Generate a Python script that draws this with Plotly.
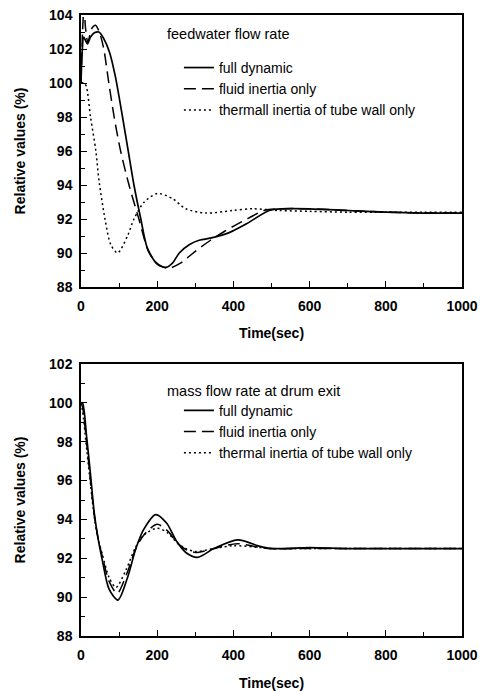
import plotly.graph_objects as go

# ---- top panel: feedwater flow rate ----
t_full_a = [0, 3, 7, 12, 17, 25, 35, 47, 60, 75, 90, 109, 124, 139, 157, 174, 200, 223, 240, 258, 285, 310, 345, 389, 433, 494, 530, 600, 700, 800, 900, 1000]
v_full_a = [100, 101.8, 102.7, 102.5, 102.3, 102.7, 102.95, 103.0, 102.6, 101.8, 100.4, 98, 96, 94, 92, 90.3, 89.35, 89.15, 89.4, 90.0, 90.5, 90.75, 90.9, 91.2, 91.7, 92.5, 92.6, 92.6, 92.5, 92.4, 92.35, 92.35]

t_fluid_a = [0, 4, 8, 12, 18, 28, 38, 48, 59, 73, 87, 104, 126, 152, 179, 205, 230, 261, 300, 340, 375, 402, 440, 480, 520, 600, 700, 800, 900, 1000]
v_fluid_a = [100, 103, 104.5, 103.2, 102.4, 103.2, 103.4, 103.0, 102.1, 100, 98, 96, 94, 92, 90, 89.3, 89.1, 89.4, 90.1, 90.75, 91.25, 91.6, 92.05, 92.5, 92.6, 92.6, 92.5, 92.4, 92.35, 92.35]

t_therm_a = [0, 8, 14, 25, 39, 47, 63, 78, 96, 122, 139, 166, 201, 240, 275, 328, 398, 450, 520, 600, 700, 800, 900, 1000]
v_therm_a = [100, 100, 99.8, 98, 96, 94.3, 92, 90.5, 90.0, 91, 92, 93, 93.5, 93.2, 92.6, 92.35, 92.5, 92.6, 92.5, 92.45, 92.4, 92.4, 92.4, 92.4]

# ---- bottom panel: mass flow rate at drum exit ----
t_full_b = [0, 4, 15, 25, 35, 45, 56, 74, 97, 122, 144, 165, 196, 225, 250, 275, 306, 349, 411, 472, 500, 600, 700, 800, 900, 1000]
v_full_b = [100, 100, 98.2, 96.3, 94.3, 93.0, 91.9, 90.4, 89.85, 91, 92.5, 93.5, 94.25, 93.8, 92.9, 92.3, 92.05, 92.5, 92.95, 92.6, 92.5, 92.55, 92.5, 92.5, 92.5, 92.5]

t_fluid_b = [0, 4, 15, 25, 35, 45, 56, 74, 95, 120, 144, 165, 200, 228, 252, 275, 305, 349, 410, 472, 500, 600, 700, 800, 900, 1000]
v_fluid_b = [100, 99.8, 97.9, 96.0, 94.2, 93.0, 92.1, 90.8, 90.2, 91.2, 92.5, 93.2, 93.75, 93.4, 92.8, 92.45, 92.3, 92.5, 92.75, 92.55, 92.5, 92.5, 92.5, 92.5, 92.5, 92.5]

t_therm_b = [0, 4, 15, 25, 35, 45, 56, 74, 92, 118, 144, 165, 200, 228, 252, 275, 300, 349, 400, 472, 500, 600, 700, 800, 900, 1000]
v_therm_b = [100, 99.6, 97.6, 95.8, 94.1, 93.0, 92.2, 91.0, 90.5, 91.4, 92.6, 93.2, 93.55, 93.3, 92.8, 92.5, 92.35, 92.5, 92.65, 92.55, 92.5, 92.5, 92.5, 92.5, 92.5, 92.5]

x_ticks = [0, 200, 400, 600, 800, 1000]
y_ticks_a = [88, 90, 92, 94, 96, 98, 100, 102, 104]
y_ticks_b = [88, 90, 92, 94, 96, 98, 100, 102]

names_a = ["full dynamic", "fluid inertia only", "thermall inertia of tube wall only"]
names_b = ["full dynamic", "fluid inertia only", "thermal inertia of tube wall only"]
dashes = ["solid", "12px,6px", "2px,3px"]
widths = [1.7, 1.5, 1.5]

fig = go.Figure()
for t, v, n, d, w in zip([t_full_a, t_fluid_a, t_therm_a], [v_full_a, v_fluid_a, v_therm_a], names_a, dashes, widths):
    fig.add_trace(go.Scatter(x=t, y=v, name=n, mode="lines", line=dict(color="black", dash=d, width=w, shape="spline", smoothing=0.8),
                             xaxis="x", yaxis="y", legend="legend"))
for t, v, n, d, w in zip([t_full_b, t_fluid_b, t_therm_b], [v_full_b, v_fluid_b, v_therm_b], names_b, dashes, widths):
    fig.add_trace(go.Scatter(x=t, y=v, name=n, mode="lines", line=dict(color="black", dash=d, width=w, shape="spline", smoothing=0.8),
                             xaxis="x2", yaxis="y2", legend="legend2"))

tickfont = dict(family="Liberation Sans", size=14, color="black", weight="bold")
titlefont = dict(family="Liberation Sans", size=14, color="black", weight="bold")
common_x = dict(range=[0, 1000], tickvals=x_ticks, ticks="inside", ticklen=6, tickwidth=1.3, tickcolor="black",
                showline=True, linecolor="black", linewidth=1.5, mirror=True, showgrid=False, zeroline=False,
                tickfont=tickfont, ticklabelstandoff=5, automargin=False,
                minor=dict(dtick=100, ticks="inside", ticklen=4, tickcolor="black", tickwidth=1))
common_y = dict(ticks="inside", ticklen=6, tickwidth=1.3, tickcolor="black",
                showline=True, linecolor="black", linewidth=1.5, mirror=True, showgrid=False, zeroline=False,
                tickfont=tickfont, ticklabelstandoff=4, automargin=False,
                minor=dict(dtick=1, ticks="inside", ticklen=4, tickcolor="black", tickwidth=1),
                title=dict(text="Relative values (%)", font=titlefont, standoff=20))

legfont = dict(family="Liberation Sans", size=14, color="black")
titfont = dict(family="Liberation Sans", size=14.5, color="black")
fig.update_layout(
    width=486, height=691,
    margin=dict(l=81, r=24, t=15, b=55, autoexpand=False),
    paper_bgcolor="white", plot_bgcolor="white",
    showlegend=True,
    xaxis=dict(domain=[0, 1], anchor="y", title=dict(text="Time(sec)", font=titlefont, standoff=16), **common_x),
    yaxis=dict(domain=[0.562, 1], anchor="x", range=[88, 104], tickvals=y_ticks_a, **common_y),
    xaxis2=dict(domain=[0, 1], anchor="y2", title=dict(text="Time(sec)", font=titlefont, standoff=18), **common_x),
    yaxis2=dict(domain=[0, 0.438], anchor="x2", range=[88, 102], tickvals=y_ticks_b, **common_y),
    legend=dict(x=0.257, y=0.9405, xanchor="left", yanchor="top", bgcolor="rgba(0,0,0,0)", font=legfont,
                tracegroupgap=0, itemwidth=30),
    legend2=dict(x=0.257, y=0.3885, xanchor="left", yanchor="top", bgcolor="rgba(0,0,0,0)", font=legfont,
                 tracegroupgap=0, itemwidth=30),
    annotations=[
        dict(text="feedwater flow rate", x=0.22, y=0.969, xref="paper", yref="paper", xanchor="left", yanchor="middle",
             showarrow=False, font=titfont),
        dict(text="mass flow rate at drum exit", x=0.22, y=0.395, xref="paper", yref="paper", xanchor="left", yanchor="middle",
             showarrow=False, font=titfont),
    ],
)

fig.write_html("out.html")
